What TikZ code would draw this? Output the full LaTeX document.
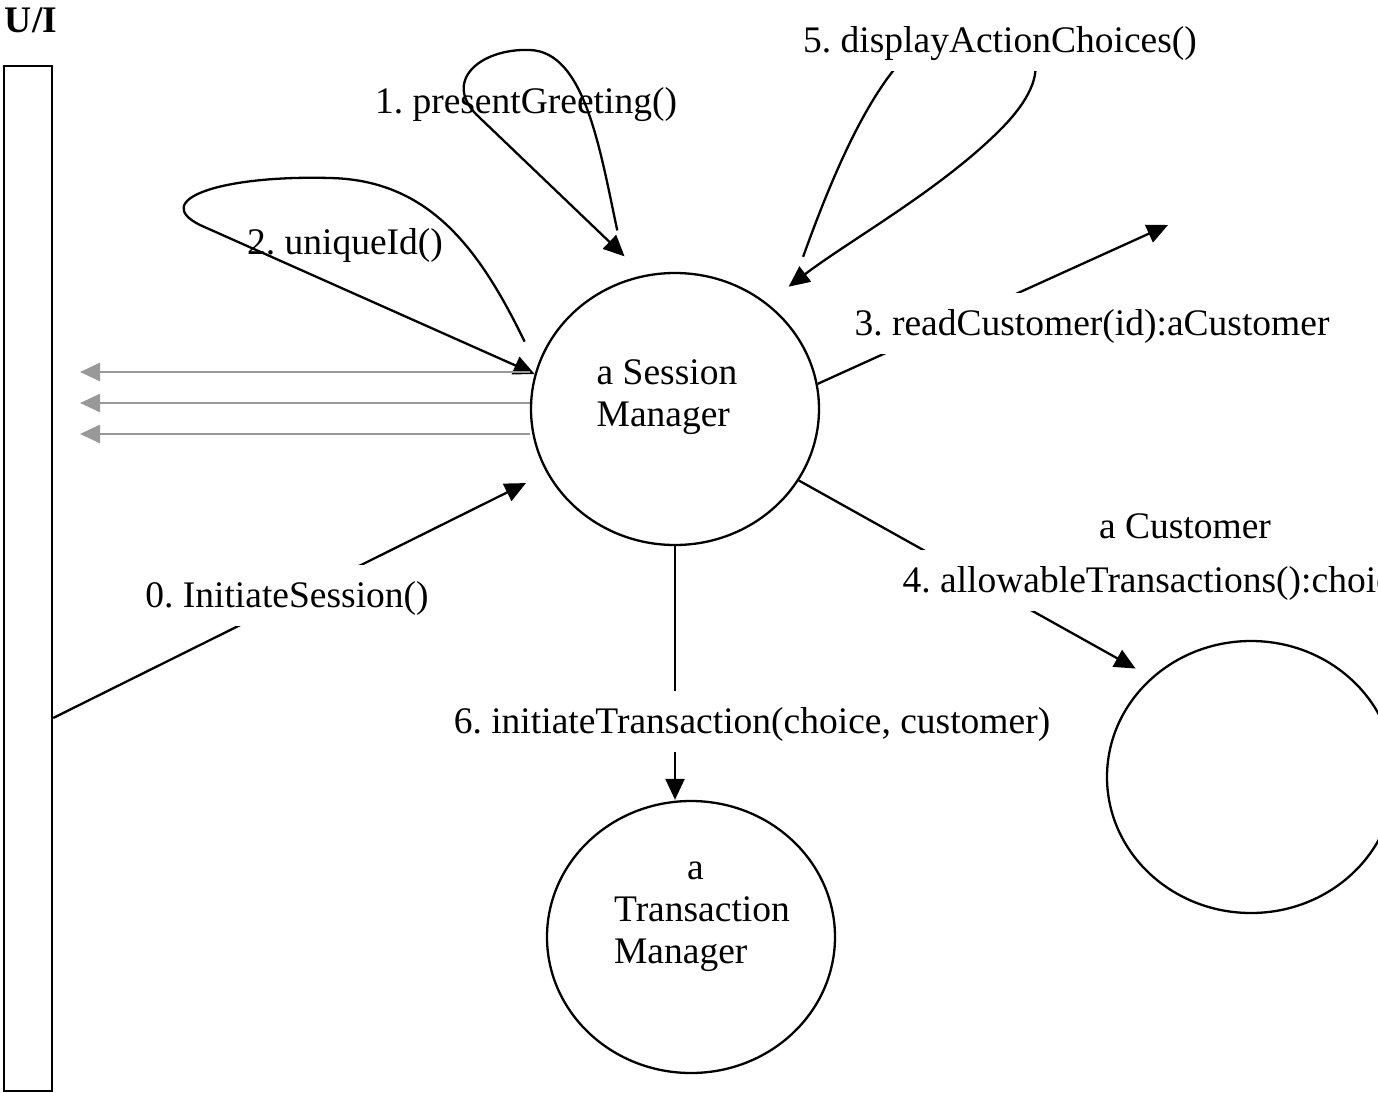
\documentclass[tikz,border=0pt]{standalone}
\usepackage{fontspec}
\setmainfont{Liberation Serif}
\usetikzlibrary{arrows.meta,shapes.geometric}
\definecolor{retgray}{HTML}{999999}
\frenchspacing
\tikzset{
    obj/.style={draw, ellipse, line width=1.15pt, minimum width=144pt, minimum height=136pt, inner sep=0pt},
    call/.style={line width=1.15pt, -{Triangle[length=10.5pt,width=9.5pt]}},
    back/.style={draw=retgray, line width=1.3pt, -{Triangle[length=10pt,width=9pt]}},
    msg/.style={fill=white, anchor=base, inner xsep=4pt, inner ysep=5pt, text height=16pt, text depth=4.5pt},
    note/.style={anchor=base}
}
\begin{document}
\begin{tikzpicture}[x=0.5pt, y=-0.5pt, font=\fontsize{18.75}{21}\selectfont]
        \useasboundingbox (0,0) rectangle (1378,1093);

        % the U/I bar and the objects
        \node[note, font=\fontsize{18.75}{21}\selectfont\bfseries] (uiname) at (31,32) {U/I};
        \node[draw, line width=1.15pt, minimum width=24pt, minimum height=512.5pt, inner sep=0pt] (ui) at (28,578.5) {};
        \node[obj] (sm) at (675,409) {};
        \node[align=left] (smtext) at (667,397) {a Session\\Manager};
        \node[obj] (tm) at (691,937) {};
        \node[align=left] (tmtext) at (702,917) {\hspace*{36.5pt}a\\Transaction\\Manager};
        \node[obj] (cu) at (1251,777) {};
        \node[note] (cuname) at (1185,538) {a Customer};
        \coordinate (c3) at (1168,225);

        % messages
        \draw[call, shorten >=11.5pt] ([yshift=-69.75pt]ui.east) -- (sm);
        \draw[call, shorten <=25pt, shorten >=13.5pt] (sm.110) .. controls (600,150) and (585,52) .. (530,50)
            .. controls (480,48) and (440,82) .. (480,118) -- (sm.103);
        \draw[call, shorten <=14pt] (sm.163) .. controls (480,250) and (430,180) .. (330,178)
            .. controls (220,175) and (150,200) .. (200,225) -- (sm.166);
        \draw[call] (sm.10) -- (c3);
        \draw[call, shorten >=9pt] (sm.-30) -- (cu.135);
        \draw[call, shorten <=31.5pt, shorten >=13.5pt] (sm.41) .. controls (845,140) and (900,20) .. (970,25)
            .. controls (1040,30) and (1060,70) .. (1000,130) .. controls (940,190) and (850,240) .. (sm.49);
        \draw[call] (sm.south) -- (sm.south |- tm.north);

        % returns to the U/I
        \foreach \y/\n in {372/a, 403/b, 434/c}{
                \coordinate (ret\n) at (80,\y);
                \draw[back] (sm.west |- ret\n) -- (ret\n);
            }

        % labels
        \node[msg] (m0) at (287,607) {0. InitiateSession()};
        \node[note] (m1) at (526,113) {1. presentGreeting()};
        \node[note] (m2) at (345,254) {2. uniqueId()};
        \node[msg] (m3) at (1092,335) {3. readCustomer(id):aCustomer};
        \node[msg] (m4) at (1156,592) {4. allowableTransactions():choice};
        \node[msg] (m5) at (1000,52) {5. displayActionChoices()};
        \node[msg] (m6) at (752,733) {6. initiateTransaction(choice, customer)};
    \end{tikzpicture}
\end{document}
